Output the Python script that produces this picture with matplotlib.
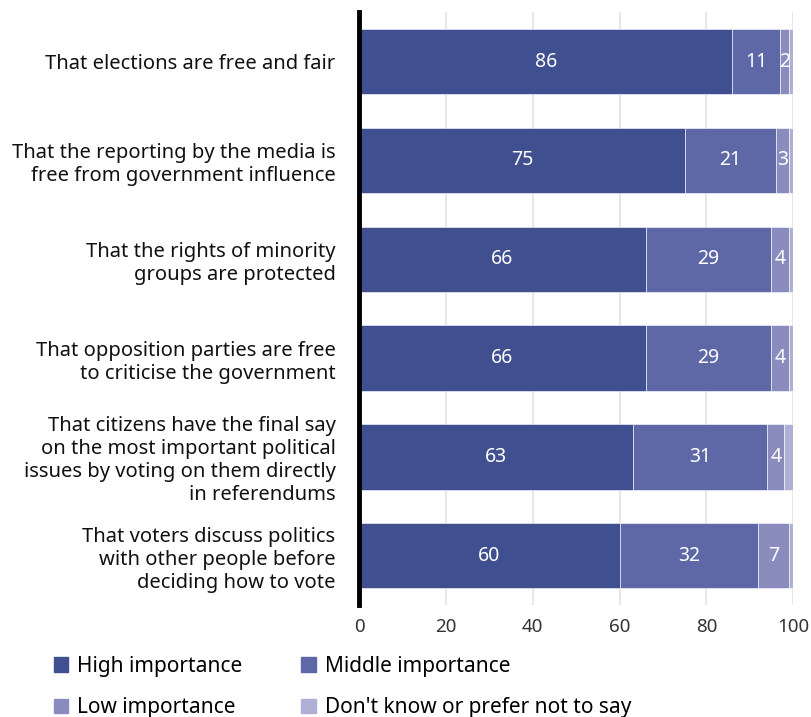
import matplotlib.pyplot as plt
from matplotlib.patches import Patch

plt.rcParams['font.family'] = ['Noto Sans', 'DejaVu Sans']

categories = [
    'That elections are free and fair',
    'That the reporting by the media is\nfree from government influence',
    'That the rights of minority\ngroups are protected',
    'That opposition parties are free\nto criticise the government',
    'That citizens have the final say\non the most important political\nissues by voting on them directly\nin referendums',
    'That voters discuss politics\nwith other people before\ndeciding how to vote',
]
high = [86, 75, 66, 66, 63, 60]
middle = [11, 21, 29, 29, 31, 32]
low = [2, 3, 4, 4, 4, 7]
dont_know = [1, 1, 1, 1, 2, 1]

series = ['High importance', 'Middle importance', 'Low importance',
          "Don't know or prefer not to say"]
colors = ['#3f4f8f', '#5f68a7', '#8a8cbe', '#b0b0d7']

fig = plt.figure(figsize=(8.11, 7.17), dpi=100)
ax = fig.add_axes([0.4427, 0.156, 0.5353, 0.827])

y = list(range(len(categories)))
left = [0] * len(categories)
for vals, col in zip([high, middle, low, dont_know], colors):
    bars = ax.barh(y, vals, left=left, height=0.66, color=col,
                   edgecolor='white', linewidth=0.4, zorder=2)
    # the "don't know" slice is too thin to carry a number
    if vals is not dont_know:
        for b, v, l in zip(bars, vals, left):
            ax.text(l + v / 2, b.get_y() + b.get_height() / 2, str(v),
                    ha='center', va='center', color='white', fontsize=14)
    left = [a + b for a, b in zip(left, vals)]

ax.set_ylim(5.5, -0.5)
ax.set_xlim(0, 100)
ax.set_xticks([0, 20, 40, 60, 80, 100])
ax.set_yticks(y)
ax.set_yticklabels(categories, fontsize=14.5, linespacing=1.2, color='#111111')
ax.tick_params(axis='both', length=0)
ax.tick_params(axis='y', pad=17)
ax.tick_params(axis='x', pad=9, labelsize=13.5)
for lab in ax.get_xticklabels():
    lab.set_color('#333333')

ax.grid(axis='x', color='#e3e3e3', linewidth=1.2, zorder=0)
ax.set_axisbelow(True)
for s in ['top', 'right', 'bottom']:
    ax.spines[s].set_visible(False)
ax.spines['left'].set_linewidth(3.5)
ax.spines['left'].set_color('black')
ax.spines['left'].set_zorder(5)

handles = [Patch(color=c) for c in colors]
order = [0, 2, 1, 3]
fig.legend([handles[i] for i in order], [series[i] for i in order],
           ncol=2, loc='lower left', bbox_to_anchor=(0.066, -0.002),
           borderpad=0, borderaxespad=0,
           frameon=False, fontsize=15, handlelength=0.7, handleheight=0.7,
           handletextpad=0.45, columnspacing=2.8, labelspacing=1.0)

fig.savefig('out.png', dpi=100)
